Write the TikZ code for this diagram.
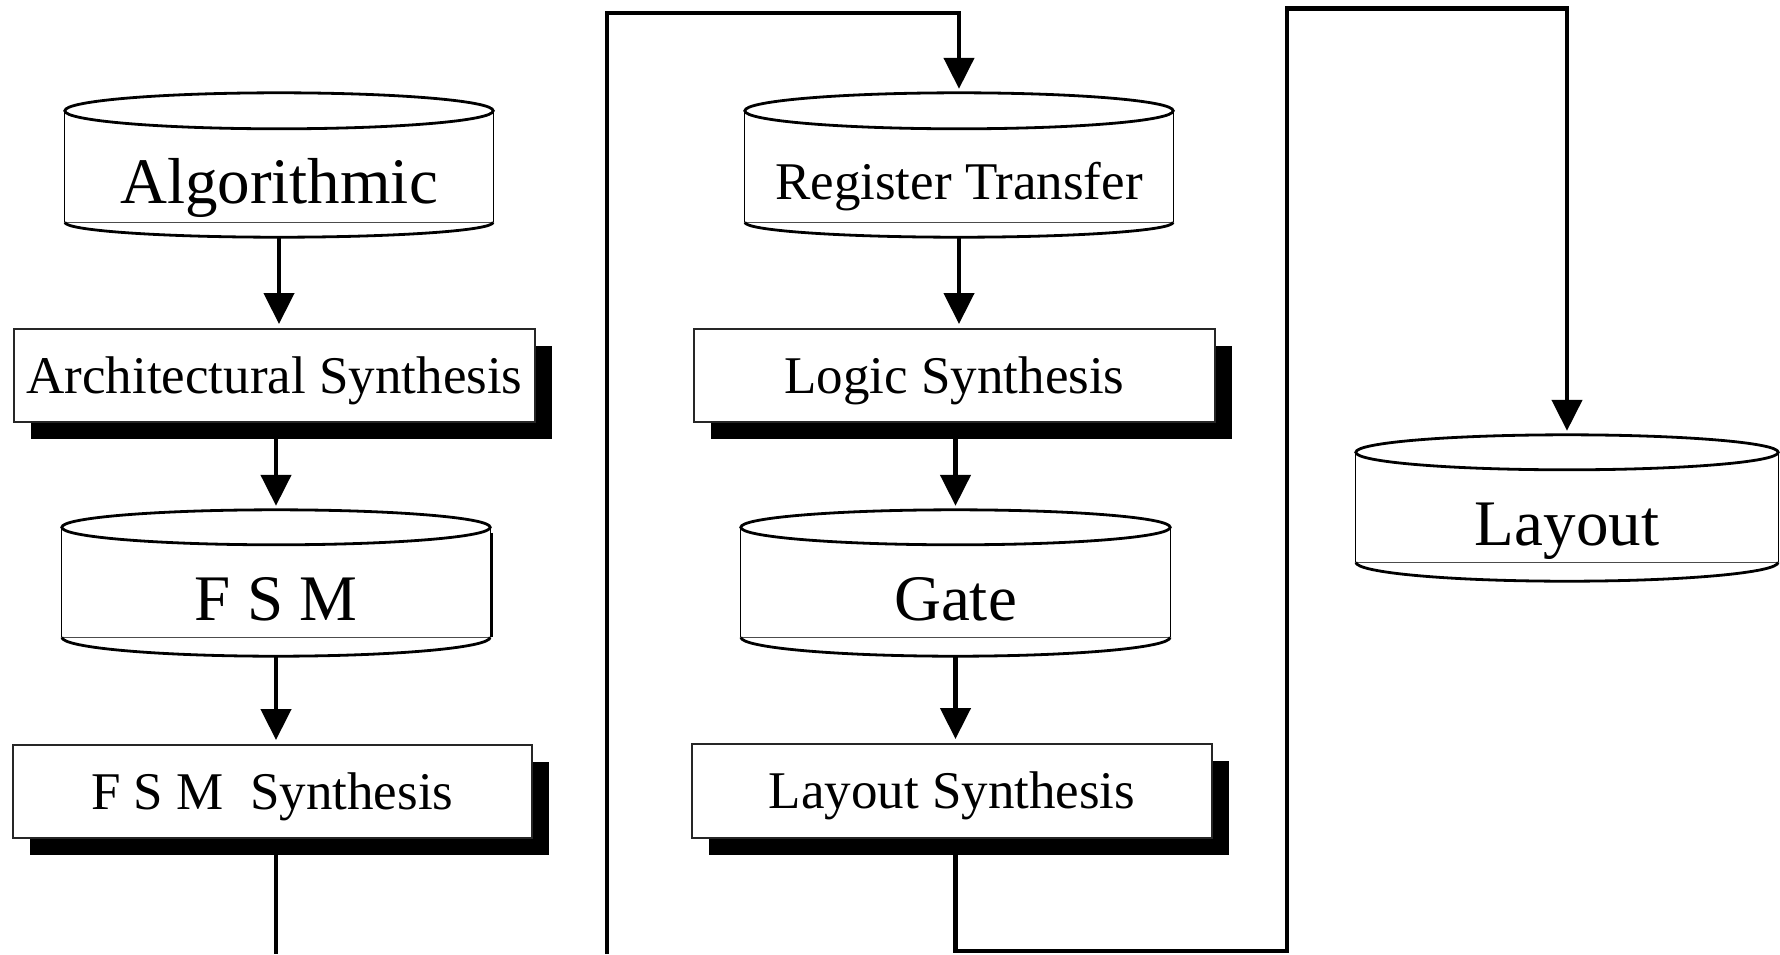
\documentclass[tikz,border=0pt]{standalone}
\usepackage{fontspec}
\setmainfont{Liberation Serif}
\usetikzlibrary{arrows.meta,calc,shadows}
\newcommand\cylshape[3]{%
  \draw[cylside] let \p1=(#1.north west), \p2=(#1.south east) in
    (\x1,\y1-#2pt) -- (\x1,\y2+#3pt) (\x2,\y1-#2pt) -- (\x2,\y2+#3pt);
  \draw[cylbase] let \p1=(#1.north west), \p2=(#1.south east) in
    (\x1,\y2+#3pt) -- (\x2,\y2+#3pt);
  \draw[cylrim,fill=white] let \p1=(#1.north), \p2=(#1.north east), \n1={\x2-\x1} in
    (\x1,\y1-#2pt) ellipse [x radius={\n1*1pt}, y radius=#2pt];
  \draw[cylrim] let \p1=(#1.south west), \p2=(#1.south), \n1={\x2-\x1} in
    (\x1,\y1+#3pt) arc[start angle=180, end angle=360, x radius={\n1*1pt}, y radius=#3pt];
}
\begin{document}
\begin{tikzpicture}[x=1pt,y=-1pt,
  bigtext/.style={font=\fontsize{65}{70}\selectfont},
  smalltext/.style={font=\fontsize{53}{58}\selectfont},
  cyl/.style={draw=none,inner sep=0pt,text depth=0pt,bigtext},
  procbox/.style={draw=black!85,line width=2pt,fill=white,inner sep=0pt,
    minimum width=520pt,minimum height=93pt,text height=35pt,text depth=0pt,smalltext,
    drop shadow={shadow xshift=17pt,shadow yshift=-17pt,opacity=1,fill=black}},
  conn/.style={line width=4.5pt,line join=miter},
  arr/.style={conn,-{Triangle[length=31pt,width=30pt]},shorten >=4pt},
  cylrim/.style={line width=2.8pt},
  cylside/.style={line width=1.3pt},
  cylbase/.style={line width=1.3pt,black!70}]
\fill[white] (0,0) rectangle (1780,954);
\useasboundingbox (0,0) rectangle (1780,954);

% cylinders
\node[cyl,minimum width=428pt,minimum height=144pt,text height=76pt] (alg) at (279,165) {Algorithmic};
\cylshape{alg}{18}{15}
\node[cyl,smalltext,minimum width=428pt,minimum height=144pt,text height=69pt] (rt) at (959,165) {Register Transfer};
\cylshape{rt}{18}{15}
\node[cyl,minimum width=428pt,minimum height=146pt,text height=74pt] (fsm) at (276,583) {F S M};
\cylshape{fsm}{17.5}{19}
\draw[line width=2.5pt] let \p1=(fsm.north east), \p2=(fsm.south east) in
  (\x1+2pt,\y1-23pt) -- (\x1+2pt,\y2+19pt);
\node[cyl,minimum width=429pt,minimum height=146pt,text height=74pt] (gate) at (955.5,583) {Gate};
\cylshape{gate}{17.5}{19}
\node[cyl,minimum width=422pt,minimum height=146pt,text height=74pt] (layout) at (1567,508) {Layout};
\cylshape{layout}{17.5}{19}

% process boxes
\node[procbox,minimum width=521pt] (arch) at (274.5,375.5) {Architectural Synthesis};
\node[procbox,minimum width=521pt] (logic) at (954.5,375.5) {Logic Synthesis};
\node[procbox,minimum width=519.5pt] (fsmsyn) at (272.25,791.5) {F S M~~Synthesis};
\node[procbox,minimum width=520pt,minimum height=94pt] (laysyn) at (952,791) {Layout Synthesis};

% connectors
\coordinate (exitL) at (276,954);
\coordinate (entM) at (607,954);
\coordinate (cA) at (1287,951);
\coordinate (cB) at (1287,8.5);

\draw[arr] (alg.south) -- (alg.south |- arch.north);
\draw[arr] (fsm.north |- arch.south) -- (fsm.north);
\draw[arr] (fsm.south) -- (fsm.south |- fsmsyn.north);
\draw[conn] (fsmsyn.south -| exitL) -- (exitL);

\draw[arr] (entM) |- ([yshift=80pt]rt.north) -- (rt.north);
\draw[arr] (rt.south) -- (rt.south |- logic.north);
\draw[arr] (gate.north |- logic.south) -- (gate.north);
\draw[arr] (gate.south) -- (gate.south |- laysyn.north);
\draw[arr] (laysyn.south -| gate.south) |- (cA) -- (cB) -| (layout.north);
\end{tikzpicture}
\end{document}
